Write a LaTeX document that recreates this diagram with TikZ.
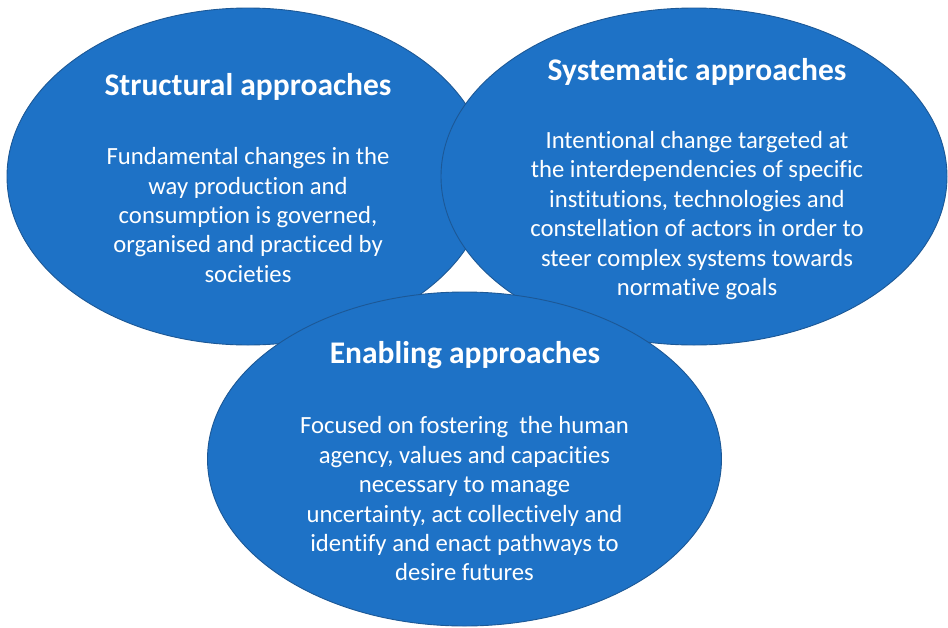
\documentclass[tikz,border=0pt]{standalone}
\usepackage{fontspec}
\setmainfont{Carlito}[Ligatures={NoCommon,NoRare}]
\usetikzlibrary{shapes.geometric}
\definecolor{blobfill}{RGB}{30,114,198}
\definecolor{blobline}{RGB}{28,88,150}
\tikzset{
  blob/.style={ellipse, fill=blobfill, draw=blobline, line width=0.9pt, inner sep=0pt},
  ttl/.style={text=white, font=\fontsize{31.5}{36}\selectfont\bfseries, align=center, inner sep=0pt},
  bdy/.style={text=white, font=\fontsize{24.7}{29.4}\selectfont, align=center, inner sep=0pt}
}
\begin{document}
\begin{tikzpicture}[x=1pt,y=1pt]
\useasboundingbox (0,0) rectangle (948,-627);
\node[blob, minimum width=482pt, minimum height=337pt] (e1) at (248,-176.5) {};
\node[blob, minimum width=506pt, minimum height=337pt] (e2) at (694,-176.5) {};
\node[blob, minimum width=514pt, minimum height=334pt] (e3) at (464.5,-459) {};
\node[ttl] (t1) at (248,-87) {Structural approaches};
\node[bdy] (b1) at (248,-215) {Fundamental changes in the\\way production and\\consumption is governed,\\organised and practiced by\\societies};
\node[ttl] (t2) at (697,-72) {Systematic approaches};
\node[bdy] (b2) at (697,-215.5) {Intentional change targeted at\\the interdependencies of specific\\institutions, technologies and\\constellation of actors in order to\\steer complex systems towards\\normative goals};
\node[ttl] (t3) at (465,-355) {Enabling approaches};
\node[bdy] (b3) at (464.5,-499) {Focused on fostering\ \ the human\\agency, values and capacities\\necessary to manage\\uncertainty, act collectively and\\identify and enact pathways to\\desire futures};
\end{tikzpicture}
\end{document}
